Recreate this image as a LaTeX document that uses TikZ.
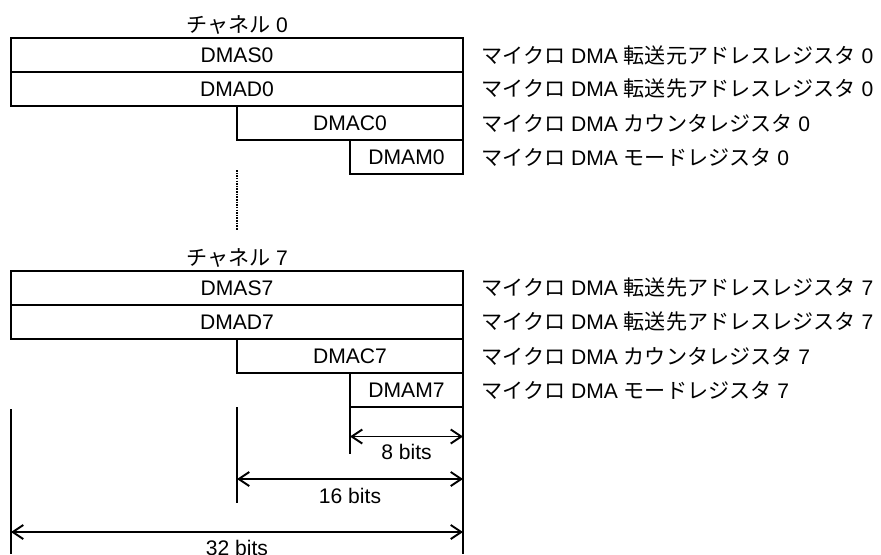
\documentclass[tikz,border=0pt]{standalone}
\usepackage{fontspec}
\setmainfont{Liberation Sans}
\newfontfamily\jp{Noto Sans CJK JP}
\usetikzlibrary{arrows.meta}

\tikzset{
  reg/.style={line width=0.8pt},
  ext/.style={line width=1.1pt},
  dim/.style={line width=1.1pt,{Straight Barb[length=6pt,width=8pt]}-{Straight Barb[length=6pt,width=8pt]}},
  dotline/.style={line width=1.5pt,dash pattern=on 0.9pt off 0.6pt},
  desc/.style={anchor=west,inner sep=0pt}
}

\begin{document}
\begin{tikzpicture}[font=\fontsize{12}{14.4}\selectfont]
  \useasboundingbox (0,0) rectangle (17.62,-11.08);
  % channel 0
  \node (ch0) at (4.74,-0.50) {{\jp チャネル} 0};
  \draw[reg] (0.22,-0.76) rectangle (9.26,-1.44) node[midway] (s0) {DMAS0};
  \draw[reg] (0.22,-1.44) rectangle (9.26,-2.12) node[midway] (d0) {DMAD0};
  \draw[reg] (4.74,-2.12) rectangle (9.26,-2.80) node[midway] (c0) {DMAC0};
  \draw[reg] (7.00,-2.80) rectangle (9.26,-3.48) node[midway] (m0) {DMAM0};
  \node[desc] (ls0) at (9.62,-1.10) {{\jp マイクロ} DMA\ {\jp 転送元アドレスレジスタ} 0};
  \node[desc] (ld0) at (9.62,-1.78) {{\jp マイクロ} DMA\ {\jp 転送先アドレスレジスタ} 0};
  \node[desc] (lc0) at (9.62,-2.46) {{\jp マイクロ} DMA\ {\jp カウンタレジスタ} 0};
  \node[desc] (lm0) at (9.62,-3.14) {{\jp マイクロ} DMA\ {\jp モードレジスタ} 0};

  % channels in between
  \coordinate (dtop) at (4.74,-3.40);
  \coordinate (dbot) at (4.74,-4.60);
  \draw[dotline] (dtop) -- (dbot);

  % channel 7
  \node (ch7) at (4.74,-5.16) {{\jp チャネル} 7};
  \draw[reg] (0.22,-5.42) rectangle (9.26,-6.10) node[midway] (s7) {DMAS7};
  \draw[reg] (0.22,-6.10) rectangle (9.26,-6.78) node[midway] (d7) {DMAD7};
  \draw[reg] (4.74,-6.78) rectangle (9.26,-7.46) node[midway] (c7) {DMAC7};
  \draw[reg] (7.00,-7.46) rectangle (9.26,-8.14) node[midway] (m7) {DMAM7};
  \node[desc] (ls7) at (9.62,-5.76) {{\jp マイクロ} DMA\ {\jp 転送先アドレスレジスタ} 7};
  \node[desc] (ld7) at (9.62,-6.44) {{\jp マイクロ} DMA\ {\jp 転送先アドレスレジスタ} 7};
  \node[desc] (lc7) at (9.62,-7.12) {{\jp マイクロ} DMA\ {\jp カウンタレジスタ} 7};
  \node[desc] (lm7) at (9.62,-7.80) {{\jp マイクロ} DMA\ {\jp モードレジスタ} 7};

  % widths
  \coordinate (e8t) at (7.00,-8.14);   \coordinate (e8b) at (7.00,-9.08);
  \coordinate (e16t) at (4.74,-8.14);  \coordinate (e16b) at (4.74,-10.06);
  \coordinate (e32t) at (0.22,-8.18);  \coordinate (e32b) at (0.22,-11.08);
  \coordinate (ert) at (9.26,-8.14);   \coordinate (erb) at (9.26,-11.08);
  \draw[ext] (e8t) -- (e8b);
  \draw[ext] (e16t) -- (e16b);
  \draw[ext] (e32t) -- (e32b);
  \draw[ext] (ert) -- (erb);

  \coordinate (a8l) at (7.00,-8.73);   \coordinate (a8r) at (9.26,-8.73);
  \coordinate (a16l) at (4.74,-9.58);  \coordinate (a16r) at (9.26,-9.58);
  \coordinate (a32l) at (0.22,-10.64); \coordinate (a32r) at (9.26,-10.64);
  \draw[dim] (a8l) -- (a8r) node[midway,yshift=-0.31cm] (b8) {8 bits};
  \draw[dim] (a16l) -- (a16r) node[midway,yshift=-0.34cm] (b16) {16 bits};
  \draw[dim] (a32l) -- (a32r) node[midway,yshift=-0.31cm] (b32) {32 bits};
\end{tikzpicture}
\end{document}
